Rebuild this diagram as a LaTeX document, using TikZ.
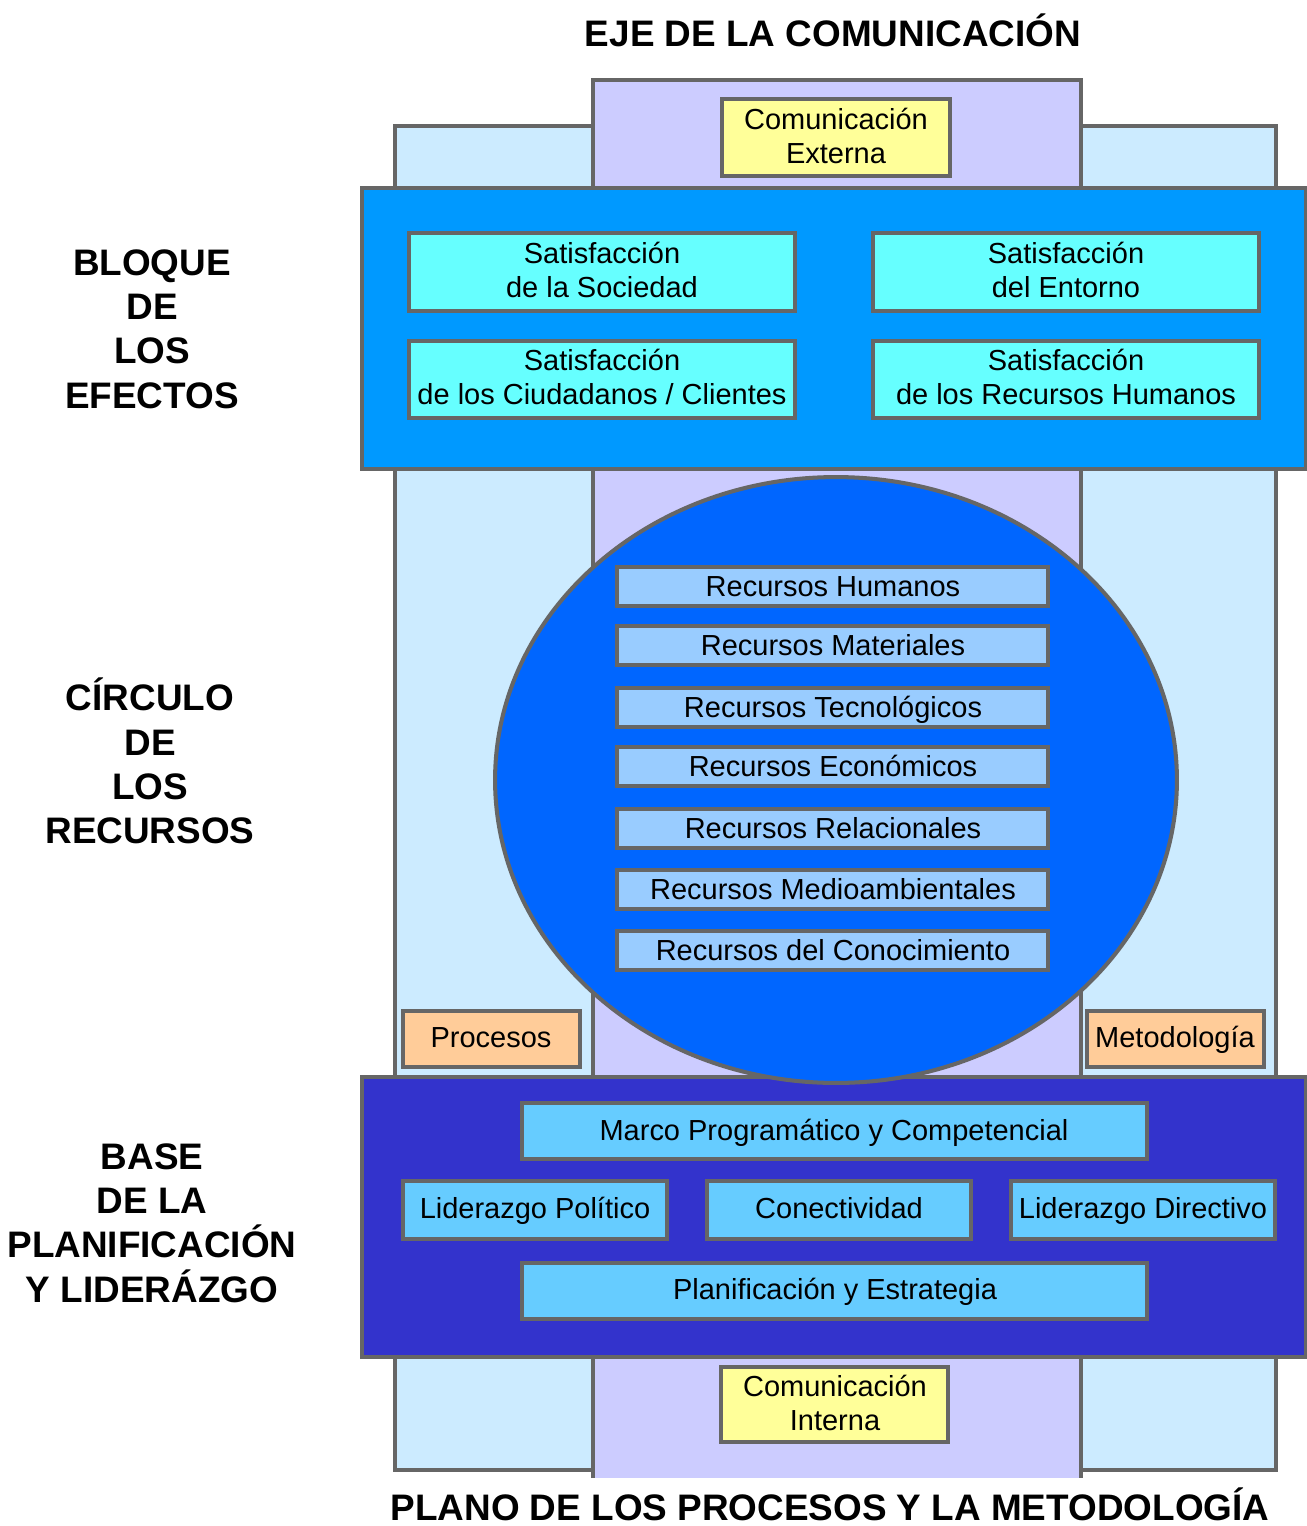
\documentclass[tikz,border=0pt]{standalone}
\usepackage{fontspec}
\setmainfont{Liberation Sans}

\definecolor{paleblue}{HTML}{CCEBFF}
\definecolor{lavender}{HTML}{CCCCFF}
\definecolor{efectos}{HTML}{0099FF}
\definecolor{satisf}{HTML}{66FFFF}
\definecolor{comyellow}{HTML}{FFFF99}
\definecolor{recblue}{HTML}{0066FF}
\definecolor{reclight}{HTML}{99CCFF}
\definecolor{peach}{HTML}{FFCC99}
\definecolor{basecolor}{HTML}{3333CC}
\definecolor{baselight}{HTML}{66CCFF}
\definecolor{edge}{HTML}{666666}

\newcommand{\boxfont}{\fontsize{16.5}{19.5}\selectfont}
\newcommand{\titlefont}{\fontsize{21}{25.2}\selectfont\bfseries}

\tikzset{
  big/.style={draw=edge, line width=2.3pt},
  small/.style={draw=edge, line width=1.8pt},
  twoline/.style={align=center, font=\boxfont, inner sep=0pt},
  txt/.style={font=\boxfont, inner sep=0pt, text height=15pt, text depth=3.5pt},
  title/.style={align=center, font=\titlefont, inner sep=0pt}
}

\begin{document}
\begin{tikzpicture}[x=0.02cm, y=-0.02cm]
            \useasboundingbox (0,0) rectangle (1307,1526);

            % columnas
            \draw[big, fill=paleblue] (395,126) rectangle (593,1470);
            \draw[big, fill=paleblue] (1081,126) rectangle (1276,1470);
            \fill[lavender] (593,80) rectangle (1081,1478);
            \draw[big] (593,1478) -- (593,80) -- (1081,80) -- (1081,1478);

            \draw[small, fill=comyellow] (722,99) rectangle (950,176);
            \node[twoline] (cext) at (836,136) {Comunicación\\Externa};

            % bloque de los efectos
            \draw[big, fill=efectos] (362,188) rectangle (1306,469);

            \draw[small, fill=satisf] (409,233) rectangle (795,311);
            \node[twoline] (soc) at (602,270) {Satisfacción\\de la Sociedad};
            \draw[small, fill=satisf] (873,233) rectangle (1259,311);
            \node[twoline] (ent) at (1066,270) {Satisfacción\\del Entorno};
            \draw[small, fill=satisf] (409,341) rectangle (795,418);
            \node[twoline] (ciu) at (602,377) {Satisfacción\\de los Ciudadanos / Clientes};
            \draw[small, fill=satisf] (873,341) rectangle (1259,418);
            \node[twoline] (rrhh) at (1066,377) {Satisfacción\\de los Recursos Humanos};

            % procesos y metodologia
            \draw[small, fill=peach] (403,1011) rectangle (580,1067);
            \node[txt] (proc) at (491,1037) {Procesos};
            \draw[small, fill=peach] (1087,1011) rectangle (1264,1067);
            \node[txt] (met) at (1175,1037) {Metodología};

            % base de la planificacion
            \draw[big, fill=basecolor] (362,1077) rectangle (1306,1357);

            \draw[small, fill=baselight] (522,1103) rectangle (1147,1159);
            \node[txt] (marco) at (834,1130) {Marco Programático y Competencial};
            \draw[small, fill=baselight] (403,1181) rectangle (667,1239);
            \node[txt] (lpol) at (535,1208) {Liderazgo Político};
            \draw[small, fill=baselight] (707,1181) rectangle (971,1239);
            \node[txt] (conec) at (839,1208) {Conectividad};
            \draw[small, fill=baselight] (1011,1181) rectangle (1275,1239);
            \node[txt] (ldir) at (1143,1208) {Liderazgo Directivo};
            \draw[small, fill=baselight] (522,1263) rectangle (1147,1319);
            \node[txt] (plan) at (835,1289) {Planificación y Estrategia};

            % circulo de los recursos
            \draw[big, fill=recblue] (836,780) ellipse [x radius=6.82cm, y radius=6.06cm];

            \foreach \ytop/\name/\label in {567/rhum/Humanos, 626/rmat/Materiales,
                688/rtec/Tecnológicos, 747/reco/Económicos, 809/rrel/Relacionales,
                870/rmed/Medioambientales, 931/rcon/del Conocimiento} {
              \draw[small, fill=reclight] (617,\ytop) rectangle (1048,\ytop+39);
              \node[txt] (\name) at (833,\ytop+19) {Recursos \label};
            }

            \draw[small, fill=comyellow] (721,1367) rectangle (948,1442);
            \node[twoline] (cint) at (835,1403) {Comunicación\\Interna};

            % titulos
            \node[title] (eje) at (833,30) {EJE DE LA COMUNICACIÓN};
            \node[title] (plano) at (830,1504) {PLANO DE LOS PROCESOS Y LA METODOLOGÍA};
            \node[title] (bloque) at (152,329) {BLOQUE\\DE\\LOS\\EFECTOS};
            \node[title] (circulo) at (150,761) {CÍRCULO\\DE\\LOS\\RECURSOS};
            \node[title] (base) at (152,1223) {BASE\\DE LA\\PLANIFICACIÓN\\Y LIDERÁZGO};
\end{tikzpicture}
\end{document}
